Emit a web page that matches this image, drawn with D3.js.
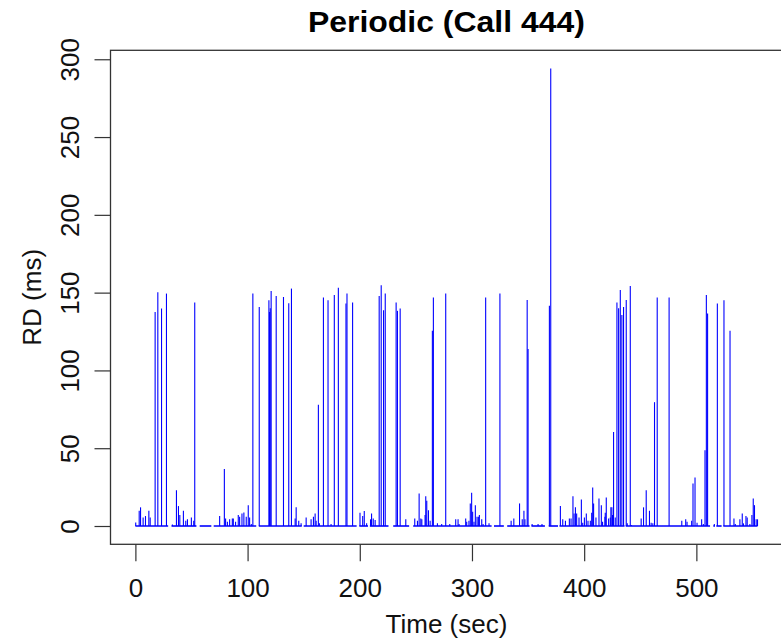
<!DOCTYPE html>
<html lang="en">
<head>
    <meta charset="UTF-8">
    <title>Periodic (Call 444)</title>
    <script src="https://cdn.jsdelivr.net/npm/d3@7"></script>
    <style>
        body {
            margin: 0;
            background-color: #fff;
        }

        svg {
            display: block;
            font-family: 'Liberation Sans', Arial, sans-serif;
        }
    </style>
</head>
<body>
    <svg id="chart" width="781" height="639"></svg>

    <script>
        const width = 781;
        const height = 639;

        // time (sec) of each RD sample that shows up as a spike
        const spikeTimes = [
            0.3, 3.4, 4.6, 6.9, 9.0, 12, 13.2, 17.6, 20, 23.3, 27.7,
            33, 36.6, 38.4, 39.6, 42.8, 44.9, 46.4, 49.9, 52, 52.9,
            75.1, 79.3, 80.4, 82, 84, 86.4, 87.3, 89.3, 91.7, 92.9, 95, 96.7, 98.8, 100.6, 101.8, 103.3, 104.7,
            110.4, 119, 119.6, 120.2, 121, 125.5, 132, 136.7, 139.1,
            142.4, 143.3, 145.6, 147.7, 152.2, 156.6, 158.7, 160.2, 161.1, 163.1, 164,
            167.6, 171.7, 174.4, 177.3, 180.9, 187.7, 188.6, 193.6,
            200.2, 202.6, 204, 206.1, 209.6, 210.5, 212, 213.7,
            217.3, 219.1, 221.2, 222.7, 232.4, 233.6, 236, 241,
            249, 251.4, 252.9, 254.4, 255.3, 258.2, 258.8, 259.7, 261.2, 262.7, 264.7, 265.6,
            269.2, 273, 276.6, 280.2, 285.5, 287.6, 288.5,
            294.4, 295.3, 297.3, 298.5, 299.7, 300.6, 301.8, 303, 304.5, 305.7, 306.6, 308.7, 309.9,
            312.2, 315.2, 324.9, 334.9, 337.3, 342.4, 344.8, 346.3, 347.2, 349.2, 350,
            353.6, 358.9, 362.4, 369, 370.2,
            378.8, 380.9, 383.3, 386.8, 388.3, 390, 391, 392.2, 393.3, 395.4, 397.5, 398.7,
            400.2, 401.9, 403.4, 405.5, 406.7, 407.6, 408.4, 410.5, 413.2, 415.3, 416.4, 418.5, 418.8,
            419.7, 421.8, 423.3, 423.8, 424.7, 425.3, 425.6, 426.2, 427.7,
            429.2, 430.7, 432.2, 433.6, 435.1, 437.5, 438.4, 441.1, 442,
            450.8, 452.9, 455.3, 458.2, 459.7, 461.2, 462.7, 465.1, 475.7,
            487, 490.5, 491.7, 495.8, 497, 498.8, 500.6, 504.7, 506.2,
            507.7, 508.9, 510, 516, 518.7, 524.6, 530,
            533.5, 534.7, 538.8, 540.9, 542, 544.2, 545.3, 547.7, 549.5, 550.7, 551.8, 553.3, 554.5
        ];

        // RD (ms) at those times
        const spikeValues = [
            2.3, 9.8, 12, 5.5, 6.4, 9.8, 5.5, 137.6, 150.2, 139.8, 149.4,
            1, 23, 12.8, 7, 9.8, 3.4, 4.3, 5.5, 3.4, 143.6,
            6.4, 36.7, 4.9, 2.8, 4.3, 4.9, 4.9, 2.8, 7, 6, 8.1, 8.7, 6, 13.4, 5.5, 1.3, 149.4,
            140.8, 145.1, 137.6, 140, 151, 147.9, 147.2, 143.2, 152.6,
            4.9, 12, 3.4, 1.7, 5.5, 4.3, 6, 8.1, 3.4, 77.9, 1.7,
            146.8, 145.1, 1.3, 148.5, 153.2, 143, 149.4, 143.6,
            8.5, 6.4, 9.6, 1.7, 4.3, 8.1, 4.9, 3.8,
            147.9, 154.7, 138.7, 149.4, 143.6, 138.3, 139.8, 4.3,
            4.9, 3.4, 20.9, 4.9, 4.3, 7, 19.2, 16.2, 10.2, 3.4, 125.5, 146.8,
            1.7, 1.3, 149.4, 1.3, 4.3, 4.3, 1.3,
            4.9, 2.8, 3.4, 14.5, 21.3, 9.2, 2.8, 13.4, 6, 6, 7, 4.3, 1.3,
            146.8, 1.7, 149.4, 3.4, 4.9, 14.5, 4.3, 9.8, 4.3, 145.3, 113.7,
            1.3, 1.3, 1.3, 141.5, 294,
            12.8, 4.3, 3.4, 4.9, 4.9, 19.2, 8.1, 12, 8.1, 5.5, 17.1, 2.1,
            5.5, 8.1, 3.4, 3.4, 8.5, 24.8, 14.5, 5.5, 17.7, 13.4, 2.8, 6, 8.5,
            18.4, 4.9, 5.5, 12, 12, 7, 7, 60.4, 5.5,
            143.6, 140, 151.7, 135.7, 140.8, 145.3, 1.7, 154.3, 0.6,
            4.9, 12, 23, 9.8, 2.1, 1.7, 79.6, 146.8, 146.8,
            3.4, 4.3, 2.8, 3.4, 27.3, 31.2, 2.1, 4.3, 1.3,
            48.7, 148.5, 136.6, 1.3, 143, 145.1, 125.5,
            4.9, 1.3, 4.3, 8.1, 1.7, 6.4, 5.5, 1.3, 7, 17.7, 13.4, 4.3, 4.3
        ];

        // stretches of time with no samples (baseline breaks)
        const gapStarts = [29.2, 54.4, 67.7, 107.7, 148.3, 197.2, 207.3, 225.6, 244, 317.5, 328.4, 351.3, 365, 376.7, 436, 512.2, 516.6, 522.5];
        const gapEnds   = [32.2, 57.3, 69.8, 110,   150,   199.6, 209,   229.8, 247.6, 319.6, 331.4, 353,   368.4, 378,  437, 515.1, 517.8, 524];

        const xTicks = [0, 100, 200, 300, 400, 500];
        const yTicks = [0, 50, 100, 150, 200, 250, 300];

        const data = spikeTimes.map((t, i) => ({ t: t, v: spikeValues[i] }));

        const tMin = 0, tMax = d3.max(spikeTimes);
        const vMin = 0, vMax = d3.max(spikeValues);

        // R style 4% padding on each side
        const xPad = (tMax - tMin) * 0.04;
        const yPad = (vMax - vMin) * 0.04;

        const plot = { left: 110.5, right: 782.4, top: 50.3, bottom: 544.3 };

        const x = d3.scaleLinear()
            .domain([tMin - xPad, tMax + xPad])
            .range([plot.left, plot.right]);

        const y = d3.scaleLinear()
            .domain([vMin - yPad, vMax + yPad])
            .range([plot.bottom, plot.top]);

        const svg = d3.select("#chart");

        svg.append("rect")
            .attr("width", width)
            .attr("height", height)
            .attr("fill", "#fff");

        // baseline segments between the gaps
        const segments = [];
        let start = tMin;
        gapStarts.forEach((g, i) => {
            segments.push([start, g]);
            start = gapEnds[i];
        });
        segments.push([start, tMax]);

        svg.append("g")
            .selectAll("line")
            .data(segments)
            .join("line")
            .attr("x1", d => x(d[0]))
            .attr("x2", d => x(d[1]))
            .attr("y1", y(0))
            .attr("y2", y(0))
            .attr("stroke", "#0000ff")
            .attr("stroke-width", 1.6);

        // vertical "h" lines
        svg.append("g")
            .selectAll("line")
            .data(data)
            .join("line")
            .attr("x1", d => x(d.t))
            .attr("x2", d => x(d.t))
            .attr("y1", y(0))
            .attr("y2", d => y(d.v))
            .attr("stroke", "#0000ff")
            .attr("stroke-width", 1.1);

        // box
        svg.append("rect")
            .attr("x", plot.left)
            .attr("y", plot.top)
            .attr("width", plot.right - plot.left)
            .attr("height", plot.bottom - plot.top)
            .attr("fill", "none")
            .attr("stroke", "#333")
            .attr("stroke-width", 1.3);

        const xAxis = svg.append("g")
            .attr("transform", `translate(0,${plot.bottom})`)
            .call(d3.axisBottom(x).tickValues(xTicks).tickSize(17).tickSizeOuter(0).tickFormat(d3.format("d")));

        const yAxis = svg.append("g")
            .attr("transform", `translate(${plot.left},0)`)
            .call(d3.axisLeft(y).tickValues(yTicks).tickSize(16).tickSizeOuter(0).tickFormat(d3.format("d")));

        [xAxis, yAxis].forEach(ax => {
            ax.select(".domain").remove();
            ax.selectAll(".tick line").attr("stroke", "#333").attr("stroke-width", 1.2);
            ax.selectAll("text")
                .attr("fill", "#111")
                .attr("font-size", "26px")
                .attr("font-family", "'Liberation Sans', Arial, sans-serif");
        });

        xAxis.selectAll("text")
            .attr("y", 52.4)
            .attr("dy", 0);

        yAxis.selectAll("text")
            .attr("x", 0)
            .attr("y", 0)
            .attr("dy", 0)
            .attr("text-anchor", "middle")
            .attr("transform", "translate(-31.5,0) rotate(-90)");

        // title and axis labels
        svg.append("text")
            .attr("x", (plot.left + plot.right) / 2)
            .attr("y", 32.3)
            .attr("text-anchor", "middle")
            .attr("font-size", "29px")
            .attr("font-weight", "bold")
            .attr("textLength", 277)
            .attr("lengthAdjust", "spacingAndGlyphs")
            .attr("fill", "#000")
            .text("Periodic (Call 444)");

        svg.append("text")
            .attr("x", (plot.left + plot.right) / 2)
            .attr("y", 632.7)
            .attr("text-anchor", "middle")
            .attr("font-size", "26px")
            .attr("fill", "#111")
            .text("Time (sec)");

        svg.append("text")
            .attr("transform", `translate(40.7,${(plot.top + plot.bottom) / 2}) rotate(-90)`)
            .attr("text-anchor", "middle")
            .attr("font-size", "26px")
            .attr("fill", "#111")
            .text("RD (ms)");
    </script>
</body>
</html>
